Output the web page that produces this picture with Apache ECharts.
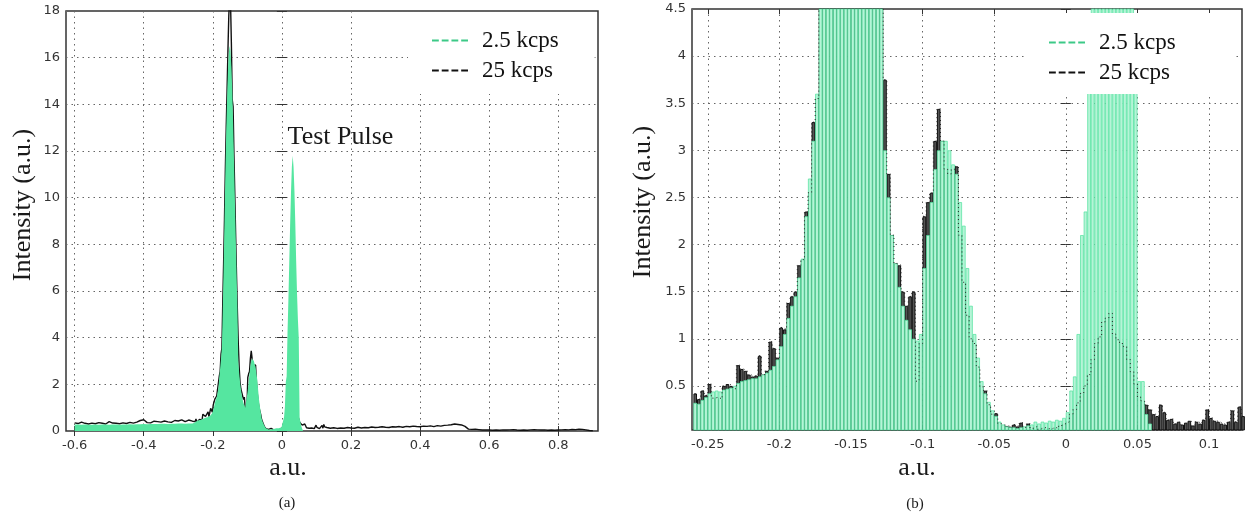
<!DOCTYPE html>
<html><head><meta charset="utf-8">
<script src="https://cdn.jsdelivr.net/npm/echarts@6/dist/echarts.min.js"></script>
<style>html,body{margin:0;padding:0;background:#fff}#c{width:1245px;height:516px}</style>
</head><body><div id="c"></div>
<script>
// ---------- DATA ----------
// fine histogram bins shared by both panels (bin i covers BIN_START + i*BIN_WIDTH .. +BIN_WIDTH)
const BIN_START = -0.26;
const BIN_WIDTH = 0.0025;
const green2p5 = [
  0.32,0.31,0.35,0.38,0.42,0.44,0.45,0.44,0.46,0.47,
  0.48,0.50,0.53,0.55,0.56,0.57,0.58,0.58,0.60,0.62,
  0.64,0.67,0.71,0.78,0.92,1.05,1.22,1.35,1.45,1.65,
  1.85,2.3,2.7,3.1,3.6,5.2,7.0,9.0,11.0,12.8,
  14.2,15.4,16.2,16.5,16.3,15.6,14.6,13.2,11.6,10.0,
  8.4,6.8,5.3,3.0,2.5,2.1,1.8,1.55,1.35,1.2,
  1.1,1.0,0.98,1.05,1.75,2.1,2.45,2.8,3.0,3.1,
  3.1,3.0,2.85,2.75,2.45,2.2,1.75,1.35,1.05,0.8,
  0.55,0.42,0.33,0.24,0.18,0.12,0.09,0.07,0.06,0.06,
  0.05,0.06,0.07,0.08,0.09,0.12,0.10,0.12,0.11,0.13,
  0.12,0.14,0.13,0.16,0.22,0.45,0.60,1.05,2.1,2.35,
  4.2,5.6,7.2,8.8,10.2,11.3,11.8,11.3,10.3,8.9,
  7.3,5.9,4.8,4.0,0.55,0.55,0.2,0.1,0,0,
  0,0,0,0,0,0,0,0,0,0,
  0,0,0,0,0,0,0,0,0,0,
  0,0,0,0
];
const black25 = [
  0.42,0.36,0.45,0.40,0.52,0.37,0.38,0.36,0.50,0.52,
  0.50,0.47,0.72,0.68,0.66,0.62,0.60,0.61,0.82,0.62,
  0.66,0.97,0.90,0.80,1.12,1.10,1.38,1.45,1.50,1.78,
  1.84,2.35,2.55,3.3,3.55,5.5,7.2,9.1,11.2,13.0,
  14.6,16.3,17.8,18.6,18.4,16.6,14.2,13.9,11.8,10.1,
  8.3,6.6,5.1,3.75,2.75,2.1,1.8,1.78,1.5,1.35,
  1.45,1.5,0.55,0.95,2.3,2.45,2.55,3.1,3.44,3.1,
  2.8,2.75,2.8,2.83,2.1,1.6,1.25,1.0,0.95,0.7,
  0.49,0.45,0.3,0.2,0.21,0.1,0.085,0.075,0.067,0.09,
  0.07,0.11,0.06,0.1,0.05,0.07,0.04,0.06,0.05,0.04,
  0.06,0.05,0.08,0.1,0.12,0.2,0.25,0.32,0.42,0.5,
  0.62,0.78,0.95,1.02,1.18,1.22,1.27,1.05,0.99,0.95,
  0.92,0.78,0.65,0.52,0.38,0.34,0.3,0.25,0.2,0.18,
  0.3,0.22,0.14,0.15,0.1,0.12,0.09,0.11,0.13,0.08,
  0.12,0.1,0.14,0.25,0.16,0.13,0.12,0.1,0.09,0.12,
  0.24,0.12,0.28,0.18
];
// coarse tails used only in panel (a)
const TAIL_STEP = 0.01;
const LEFT_TAIL_START = -0.60;   // -0.60 .. -0.27
const leftTailGreen = [
  0.28,0.28,0.27,0.28,0.27,0.27,0.28,0.27,0.28,0.28,
  0.27,0.28,0.28,0.27,0.28,0.28,0.29,0.28,0.29,0.29,
  0.30,0.29,0.30,0.30,0.30,0.31,0.31,0.30,0.31,0.31,
  0.32,0.32,0.31,0.32
];
const leftTailBlack = [
  0.35,0.32,0.38,0.33,0.30,0.34,0.31,0.36,0.33,0.30,
  0.40,0.34,0.33,0.31,0.35,0.32,0.37,0.34,0.38,0.45,
  0.48,0.36,0.35,0.42,0.40,0.38,0.43,0.39,0.37,0.45,
  0.43,0.48,0.40,0.47
];
const RIGHT_TAIL_START = 0.13;   // 0.13 .. 0.90
const rightTailBlack = [
  0.15,0.12,0.14,0.11,0.13,0.12,0.15,0.13,0.12,0.16,
  0.13,0.15,0.14,0.17,0.15,0.16,0.18,0.16,0.15,0.18,
  0.17,0.19,0.16,0.20,0.18,0.21,0.19,0.18,0.21,0.20,
  0.22,0.19,0.23,0.21,0.24,0.25,0.27,0.30,0.28,0.26,
  0.20,0.08,0.07,0.08,0.06,0.04,0.05,0.04,0.03,0.04,
  0.03,0.05,0.04,0.05,0.06,0.04,0.03,0.04,0.03,0.05,
  0.06,0.05,0.04,0.05,0.03,0.04,0.03,0.04,0.05,0.06,
  0.05,0.07,0.06,0.08,0.07,0.05,0.02,0.01
];
// axes / ticks
const xTicksA = [-0.6,-0.4,-0.2,0,0.2,0.4,0.6,0.8];
const yTicksA = [0,2,4,6,8,10,12,14,16,18];
const xTicksB = [-0.25,-0.2,-0.15,-0.1,-0.05,0,0.05,0.1];
const yTicksB = [0.5,1,1.5,2,2.5,3,3.5,4,4.5];
const X_RANGE_A = [-0.625, 0.915], Y_RANGE_A = [0, 18];
const X_RANGE_B = [-0.261, 0.123], Y_RANGE_B = [0.032, 4.5];
const seriesNames = ['2.5 kcps', '25 kcps'];
const panelLabels = ['(a)', '(b)'];
const axisTitleX = 'a.u.', axisTitleY = 'Intensity (a.u.)', annotation = 'Test Pulse';

// ---------- BUILD ----------
const binX = green2p5.map((_, i) => +(BIN_START + BIN_WIDTH * (i + 0.5)).toFixed(5));
const ltX = leftTailGreen.map((_, i) => +(LEFT_TAIL_START + TAIL_STEP * i).toFixed(3));
const rtX = rightTailBlack.map((_, i) => +(RIGHT_TAIL_START + TAIL_STEP * i).toFixed(3));
const zip = (xs, ys) => xs.map((x, i) => [x, ys[i]]);
const greenA = zip(ltX, leftTailGreen).concat(zip(binX, green2p5));
const blackA = zip(ltX, leftTailBlack).concat(zip(binX, black25), zip(rtX, rightTailBlack));
const greenB = zip(binX, green2p5);
const blackB = zip(binX, black25);

const G = [{left: 66, top: 11, width: 532, height: 420}, {left: 692, top: 9, width: 550, height: 421}];
const barW = G[1].width * BIN_WIDTH / (X_RANGE_B[1] - X_RANGE_B[0]);

const SERIF = '"Liberation Serif", "Times New Roman", serif';
const SANS = '"DejaVu Sans", sans-serif';
const GREEN = '#55e6a0', DASH_GREEN = '#3cc987';
const DASH = 'path://M0,0h7v2h-7z M10,0h7v2h-7z M20,0h7v2h-7z M30,0h7v2h-7z';
const fmt = v => String(+v.toFixed(3));

function mainX(gi, range, ticks) {
  return {gridIndex: gi, type: 'value', min: range[0], max: range[1],
    axisLine: {show: false},
    axisTick: {show: true, inside: true, length: 5, customValues: ticks, lineStyle: {color: '#333'}},
    axisLabel: {customValues: ticks, formatter: fmt, margin: 8, color: '#333', fontFamily: SANS, fontSize: 13},
    splitLine: {show: true, lineStyle: {color: '#666', type: [1.5, 4], width: 1}}};
}
function mainY(gi, range, ticks) {
  return {gridIndex: gi, type: 'value', min: range[0], max: range[1],
    axisLine: {show: false},
    axisTick: {show: true, inside: true, length: 5, customValues: ticks, lineStyle: {color: '#333'}},
    axisLabel: {customValues: ticks, formatter: fmt, margin: 6, color: '#333', fontFamily: SANS, fontSize: 13},
    splitLine: {show: true, lineStyle: {color: '#666', type: [1.5, 4], width: 1}}};
}
function mirror(base, pos) {
  return Object.assign({}, base, {position: pos, axisLabel: {show: false}, splitLine: {show: false}});
}
const xa0 = mainX(0, X_RANGE_A, xTicksA), ya0 = mainY(0, Y_RANGE_A, yTicksA);
const xb0 = mainX(1, X_RANGE_B, xTicksB), yb0 = mainY(1, Y_RANGE_B, yTicksB);

function legendFor(left, top, padding) {
  return {left, top, orient: 'vertical', backgroundColor: '#fff', padding, itemGap: 7,
    itemWidth: 36, itemHeight: 3, selectedMode: false,
    data: [{name: seriesNames[0], icon: DASH, itemStyle: {color: DASH_GREEN}},
           {name: seriesNames[1], icon: DASH, itemStyle: {color: '#111'}}],
    textStyle: {fontFamily: SERIF, fontSize: 23, color: '#111', padding: [0, 0, 0, 9]}};
}

const txt = (x, y, text, size, rot) => ({type: 'text', x, y, rotation: rot || 0, z: 10,
  style: {text, font: size + 'px ' + SERIF, fill: '#1a1a1a', textAlign: 'center', textVerticalAlign: 'middle', align: 'center', verticalAlign: 'middle'}});

const option = {
  animation: false,
  backgroundColor: '#fff',
  grid: G.map(g => Object.assign({show: true, borderColor: '#333', borderWidth: 1.5, backgroundColor: 'transparent'}, g)),
  xAxis: [xa0, mirror(xa0, 'top'), xb0, mirror(xb0, 'top')],
  yAxis: [ya0, mirror(ya0, 'right'), yb0, mirror(yb0, 'right')],
  legend: [legendFor(408, 12, [17, 36, 12, 24]), legendFor(1027, 13, [18, 60, 10, 22])],
  graphic: [
    txt(23, 205, axisTitleY, 26, Math.PI / 2),
    txt(643, 202, axisTitleY, 26, Math.PI / 2),
    txt(288, 468, axisTitleX, 26),
    txt(917, 468, axisTitleX, 26),
    txt(287, 503, panelLabels[0], 15),
    txt(915, 504, panelLabels[1], 15)
  ],
  series: [
    {name: seriesNames[1], type: 'line', xAxisIndex: 0, yAxisIndex: 0, data: blackA, symbol: 'none',
     lineStyle: {color: '#111', width: 1.4}, itemStyle: {color: '#111'}, z: 2, clip: true},
    {name: seriesNames[0], type: 'line', xAxisIndex: 0, yAxisIndex: 0, data: greenA, symbol: 'none',
     lineStyle: {width: 0, color: GREEN}, itemStyle: {color: GREEN}, areaStyle: {color: GREEN, opacity: 1}, z: 3, clip: true,
     markPoint: {symbol: 'circle', symbolSize: 1, itemStyle: {color: 'rgba(0,0,0,0)'},
       label: {show: true, position: 'right', distance: 0, formatter: annotation, fontFamily: SERIF, fontSize: 26, color: '#1a1a1a'},
       data: [{coord: [0.015, 12.6]}]}},
    {name: seriesNames[1], type: 'bar', xAxisIndex: 2, yAxisIndex: 2, data: blackB, barWidth: barW, barGap: '-100%',
     itemStyle: {color: '#555', borderColor: '#111', borderWidth: 1}, z: 2, clip: true},
    {name: seriesNames[0], type: 'bar', xAxisIndex: 2, yAxisIndex: 2, data: greenB, barWidth: barW, barGap: '-100%',
     itemStyle: {color: '#b6f4d7', borderColor: '#4fe29e', borderWidth: 0.7}, z: 3, clip: true},
    {name: seriesNames[1], type: 'line', step: 'middle', xAxisIndex: 2, yAxisIndex: 2, data: blackB, symbol: 'none',
     lineStyle: {color: '#222', width: 1, type: [1, 3]}, itemStyle: {color: '#111'}, z: 4, clip: true}
  ]
};
const chart = echarts.init(document.getElementById('c'), null, {renderer: 'canvas'});
chart.setOption(option);
</script>
</body></html>
